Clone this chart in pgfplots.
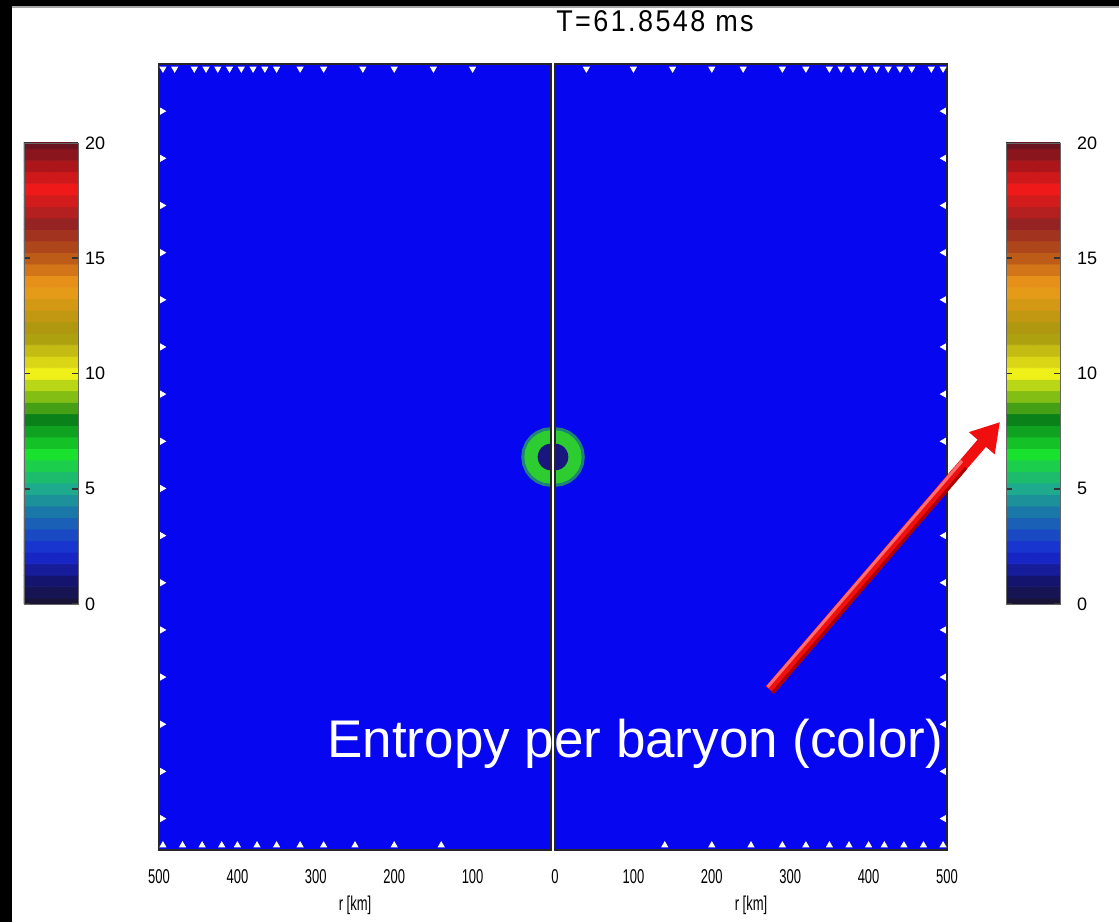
\documentclass[border=0pt]{standalone}
\usepackage{pgfplots}
\pgfplotsset{compat=1.18}
\usepackage{fontspec}
\setmainfont{Liberation Sans}
\newfontfamily\narrowfont[FakeStretch=0.65]{Liberation Sans}
\newfontfamily\titlefont[FakeStretch=0.9,LetterSpace=8]{Liberation Sans}
\usetikzlibrary{arrows.meta}

\definecolor{bgblue}{RGB}{6,6,240}
\definecolor{ringgreen}{RGB}{45,205,50}
\definecolor{ringsoft}{RGB}{30,130,120}
\definecolor{coreblue}{RGB}{25,22,125}
\definecolor{arrowred}{RGB}{240,15,15}
\definecolor{arrowlight}{RGB}{255,110,110}
\definecolor{arrowdark}{RGB}{170,0,0}

\pgfplotsset{
  /pgf/number format/assume math mode=true,
  colormap={entropy}{
    rgb255(0)=(25,20,55) rgb255(10)=(20,20,110) rgb255(22)=(25,40,215)
    rgb255(36)=(25,100,180) rgb255(50)=(30,170,140) rgb255(65)=(25,225,45)
    rgb255(80)=(10,130,25) rgb255(90)=(130,190,20) rgb255(100)=(240,240,25)
    rgb255(117)=(165,150,15) rgb255(138)=(240,155,25) rgb255(152)=(180,80,25)
    rgb255(165)=(150,35,35) rgb255(180)=(240,25,25) rgb255(200)=(105,20,30)
  },
  field/.style={
    scale only axis, width=196pt, height=393pt, anchor=south west,
    ymin=-500, ymax=500, ytick=\empty,
    axis line style={black!85, line width=0.7pt},
    major tick length=0pt,
    xticklabel style={font=\narrowfont\fontsize{10}{12}\selectfont, yshift=-6pt},
    xlabel={r [km]},
    xlabel style={font=\narrowfont\fontsize{10}{12}\selectfont,
      at={(axis description cs:0.5,0)}, anchor=center, yshift=-27.5pt},
    axis on top, clip=true,
  },
  cbar/.style={
    scale only axis, width=27pt, height=230.5pt, anchor=north west,
    xmin=-0.5, xmax=1.5, ymin=0, ymax=20, xtick=\empty,
    ytick={0,5,10,15,20}, yticklabel pos=right, ytick pos=both,
    major tick length=3pt, tick style={black!80, line width=0.8pt},
    axis line style={black!60}, axis on top,
    yticklabel style={font=\fontsize{9}{10}\selectfont},
    colormap name=entropy, point meta min=0, point meta max=20,
  },
  edgemark/.style={only marks, mark=triangle*, mark size=1.7pt, white},
}

% colour scale samples (entropy per baryon, 0 ... 20)
\pgfplotstableread{
x y
0 0
1 0
0 0.5
1 0.5
0 1
1 1
0 1.5
1 1.5
0 2
1 2
0 2.5
1 2.5
0 3
1 3
0 3.5
1 3.5
0 4
1 4
0 4.5
1 4.5
0 5
1 5
0 5.5
1 5.5
0 6
1 6
0 6.5
1 6.5
0 7
1 7
0 7.5
1 7.5
0 8
1 8
0 8.5
1 8.5
0 9
1 9
0 9.5
1 9.5
0 10
1 10
0 10.5
1 10.5
0 11
1 11
0 11.5
1 11.5
0 12
1 12
0 12.5
1 12.5
0 13
1 13
0 13.5
1 13.5
0 14
1 14
0 14.5
1 14.5
0 15
1 15
0 15.5
1 15.5
0 16
1 16
0 16.5
1 16.5
0 17
1 17
0 17.5
1 17.5
0 18
1 18
0 18.5
1 18.5
0 19
1 19
0 19.5
1 19.5
0 20
1 20
}\scaletab

\begin{document}
\begin{tikzpicture}
\useasboundingbox (0,0) rectangle (559.5pt,461pt);
\fill[white] (0,0) rectangle (559.5pt,461pt);

% left half (r shown as 500 ... 0)
\begin{axis}[field, at={(79.5pt,36pt)}, xmin=-500, xmax=0,
  xtick={-500,-400,-300,-200,-100}, xticklabels={500,400,300,200,100}]
  \addplot[fill=bgblue, draw=none] coordinates {(-500,-500) (0,-500) (0,500) (-500,500)} -- cycle;
  \addplot[fill=ringsoft, draw=none] coordinates {(0,-38) (-9.83,-36.71) (-19,-32.91) (-26.87,-26.87) (-32.91,-19) (-36.71,-9.83) (-38,0) (-36.71,9.83) (-32.91,19) (-26.87,26.87) (-19,32.91) (-9.83,36.71) (0,38)} -- cycle;
  \addplot[fill=ringgreen, draw=none] coordinates {(0,-34) (-8.80,-32.84) (-17,-29.44) (-24.04,-24.04) (-29.44,-17) (-32.84,-8.80) (-34,0) (-32.84,8.80) (-29.44,17) (-24.04,24.04) (-17,29.44) (-8.80,32.84) (0,34)} -- cycle;
  \addplot[fill=coreblue, draw=none] coordinates {(0,-17) (-4.40,-16.42) (-8.5,-14.72) (-12.02,-12.02) (-14.72,-8.5) (-16.42,-4.40) (-17,0) (-16.42,4.40) (-14.72,8.5) (-12.02,12.02) (-8.5,14.72) (-4.40,16.42) (0,17)} -- cycle;
  \addplot[edgemark, mark options={rotate=180}] coordinates {(-495,494) (-480,494) (-455,494) (-440,494) (-425,494) (-410,494) (-395,494) (-380,494) (-365,494) (-350,494) (-320,494) (-290,494) (-240,494) (-200,494) (-150,494) (-100,494)};
  \addplot[edgemark] coordinates {(-495,-494) (-470,-494) (-445,-494) (-420,-494) (-400,-494) (-375,-494) (-350,-494) (-320,-494) (-290,-494) (-250,-494) (-200,-494) (-140,-494)};
  \addplot[edgemark, mark options={rotate=-90}] coordinates {(-496,-460) (-496,-400) (-496,-340) (-496,-280) (-496,-220) (-496,-160) (-496,-100) (-496,-40) (-496,20) (-496,80) (-496,140) (-496,200) (-496,260) (-496,320) (-496,380) (-496,440)};
\end{axis}

% right half (r shown as 0 ... 500)
\begin{axis}[field, at={(277.5pt,36pt)}, xmin=0, xmax=500,
  xtick={0,100,200,300,400,500}, xticklabels={0,100,200,300,400,500}]
  \addplot[fill=bgblue, draw=none] coordinates {(0,-500) (500,-500) (500,500) (0,500)} -- cycle;
  \addplot[fill=ringsoft, draw=none] coordinates {(0,-38) (9.83,-36.71) (19,-32.91) (26.87,-26.87) (32.91,-19) (36.71,-9.83) (38,0) (36.71,9.83) (32.91,19) (26.87,26.87) (19,32.91) (9.83,36.71) (0,38)} -- cycle;
  \addplot[fill=ringgreen, draw=none] coordinates {(0,-34) (8.80,-32.84) (17,-29.44) (24.04,-24.04) (29.44,-17) (32.84,-8.80) (34,0) (32.84,8.80) (29.44,17) (24.04,24.04) (17,29.44) (8.80,32.84) (0,34)} -- cycle;
  \addplot[fill=coreblue, draw=none] coordinates {(0,-17) (4.40,-16.42) (8.5,-14.72) (12.02,-12.02) (14.72,-8.5) (16.42,-4.40) (17,0) (16.42,4.40) (14.72,8.5) (12.02,12.02) (8.5,14.72) (4.40,16.42) (0,17)} -- cycle;
  \addplot[edgemark, mark options={rotate=180}] coordinates {(40,494) (100,494) (150,494) (200,494) (240,494) (290,494) (320,494) (350,494) (365,494) (380,494) (395,494) (410,494) (425,494) (440,494) (455,494) (480,494) (495,494)};
  \addplot[edgemark] coordinates {(140,-494) (200,-494) (250,-494) (290,-494) (320,-494) (350,-494) (375,-494) (400,-494) (420,-494) (445,-494) (470,-494) (495,-494)};
  \addplot[edgemark, mark options={rotate=90}] coordinates {(496,-460) (496,-400) (496,-340) (496,-280) (496,-220) (496,-160) (496,-100) (496,-40) (496,20) (496,80) (496,140) (496,200) (496,260) (496,320) (496,380) (496,440)};
\end{axis}

% colour scales
\begin{axis}[cbar, at={(12pt,389.5pt)}]
  \addplot[matrix plot*, mesh/cols=2, point meta=y] table {\scaletab};
\end{axis}
\begin{axis}[cbar, at={(503pt,389.5pt)},
  yticklabel style={font=\fontsize{9}{10}\selectfont, xshift=5pt}]
  \addplot[matrix plot*, mesh/cols=2, point meta=y] table {\scaletab};
\end{axis}

% frame strips
\fill[black] (0,0) rectangle (6pt,461pt);
\fill[black] (0,458pt) rectangle (559.5pt,461pt);
\fill[black!35] (6pt,457pt) rectangle (559.5pt,458pt);

% title
\node[anchor=base, inner sep=0pt, font=\titlefont\fontsize{15}{17}\selectfont] at (327.5pt,445pt) {T=61.8548 ms};

% annotation
\draw[-{Triangle[length=14pt,width=16pt]}, line width=5.5pt, arrowred] (385pt,116pt) -- (500pt,250pt);
\draw[line width=1.5pt, arrowdark] (386.2pt,114.5pt) -- (483pt,227pt);
\draw[line width=1.5pt, arrowlight] (383.8pt,117.5pt) -- (481pt,230.5pt);
\node[anchor=base west, inner sep=0pt, text=white, font=\fontsize{26.5}{30}\selectfont] at (163.5pt,82.5pt) {Entropy per baryon (color)};
\end{tikzpicture}
\end{document}
